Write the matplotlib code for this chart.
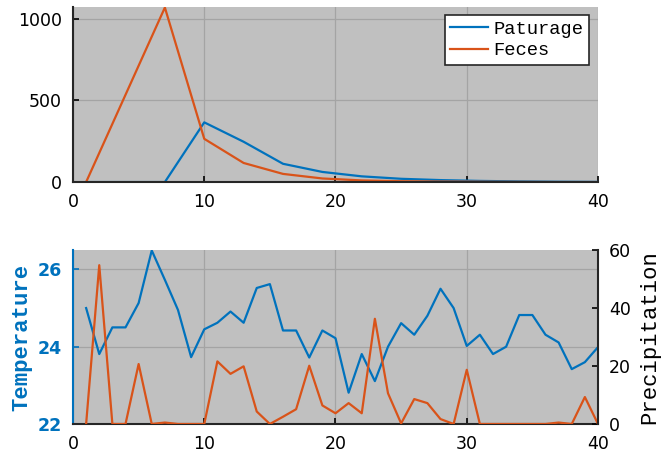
import numpy as np
import matplotlib.pyplot as plt

# top panel: sampled every 3 days
days_top = [1, 4, 7, 10, 13, 16, 19, 22, 25, 28, 31, 34, 37, 40]

paturage = [0, 0, 0, 366, 247, 112, 62, 35, 20, 12, 7, 4, 2, 1]

feces = [0, 535, 1070, 265, 117, 50, 22, 10, 5, 3, 2, 1, 0, 0]

# bottom panel: daily
days = list(range(1, 41))

temperature = [
    25.0, 23.81, 24.5, 24.5, 25.13, 26.49, 25.73, 24.95, 23.73, 24.45,
    24.62, 24.91, 24.62, 25.52, 25.62, 24.42, 24.42, 23.72, 24.42, 24.22,
    22.81, 23.81, 23.11, 24.0, 24.61, 24.31, 24.8, 25.5, 25.0, 24.02,
    24.31, 23.81, 24.0, 24.82, 24.82, 24.31, 24.11, 23.42, 23.6, 23.99
]

precipitation = [
    0, 54.8, 0, 0, 20.7, 0, 0.5, 0, 0, 0,
    21.6, 17.3, 19.9, 4.3, 0, 2.5, 5.1, 20.1, 6.4, 3.7,
    7.2, 3.7, 36.3, 10.6, 0.2, 8.6, 7.2, 1.7, 0, 18.7,
    0, 0, 0, 0, 0, 0, 0.5, 0, 9.3, 0
]

blue = "#0072BD"
orange = "#D95319"
bg = "#c0c0c0"
grid_col = "#a4a4a4"
mono = "Liberation Mono"

plt.rcParams["font.family"] = "DejaVu Sans"

fig = plt.figure(figsize=(6.71, 4.54), dpi=100)

ax1 = fig.add_axes([0.1088, 0.599, 0.7824, 0.3855])

ax2 = fig.add_axes([0.1088, 0.0661, 0.7824, 0.383])


def style_axis(ax):

    ax.set_facecolor(bg)

    ax.grid(True, color=grid_col, linewidth=0.9)

    ax.set_axisbelow(True)

    ax.tick_params(direction="in", length=4, width=1.2, labelsize=12.5, pad=8)

    for side in ["top", "right"]:
        ax.spines[side].set_visible(False)

    for side in ["left", "bottom"]:
        ax.spines[side].set_linewidth(1.5)
        ax.spines[side].set_color("#262626")


# top panel
style_axis(ax1)

ax1.plot(days_top, paturage, color=blue, linewidth=1.6, label="Paturage")

ax1.plot(days_top, feces, color=orange, linewidth=1.6, label="Feces")

ax1.set_xlim(0, 40)

ax1.set_ylim(0, 1073)

ax1.set_xticks([0, 10, 20, 30, 40])

ax1.set_yticks([0, 500, 1000])

leg = ax1.legend(
    loc="upper right",
    bbox_to_anchor=(0.983, 0.955),
    prop={"family": mono, "size": 13.5},
    frameon=True,
    fancybox=False,
    handlelength=2.0,
    handletextpad=0.3,
    borderpad=0.3,
    borderaxespad=0,
    labelspacing=0.25
)

leg.get_frame().set_edgecolor("#262626")

leg.get_frame().set_linewidth(1.2)

leg.get_frame().set_facecolor("white")

leg.get_frame().set_alpha(1)

# bottom panel
style_axis(ax2)

ax2.plot(days, temperature, color=blue, linewidth=1.6)

ax2.set_xlim(0, 40)

ax2.set_ylim(22, 26.5)

ax2.set_xticks([0, 10, 20, 30, 40])

ax2.set_yticks([22, 24, 26])

ax2.spines["left"].set_color(blue)

ax2.tick_params(axis="y", colors=blue)

for lbl in ax2.get_yticklabels():
    lbl.set_fontweight("bold")

ax2.set_ylabel("Temperature", color=blue, family=mono, fontsize=16, fontweight="bold", labelpad=4)

ax3 = ax2.twinx()

ax3.plot(days, precipitation, color=orange, linewidth=1.6)

ax3.set_ylim(0, 60)

ax3.set_yticks([0, 20, 40, 60])

ax3.tick_params(direction="in", length=4, width=1.2, labelsize=12.5, pad=8)

for side in ["top", "left", "bottom"]:
    ax3.spines[side].set_visible(False)

ax3.spines["right"].set_linewidth(1.5)

ax3.spines["right"].set_color("#262626")

ax3.set_ylabel("Precipitation", family=mono, fontsize=16, labelpad=6)

fig.savefig("out.png", dpi=100)
